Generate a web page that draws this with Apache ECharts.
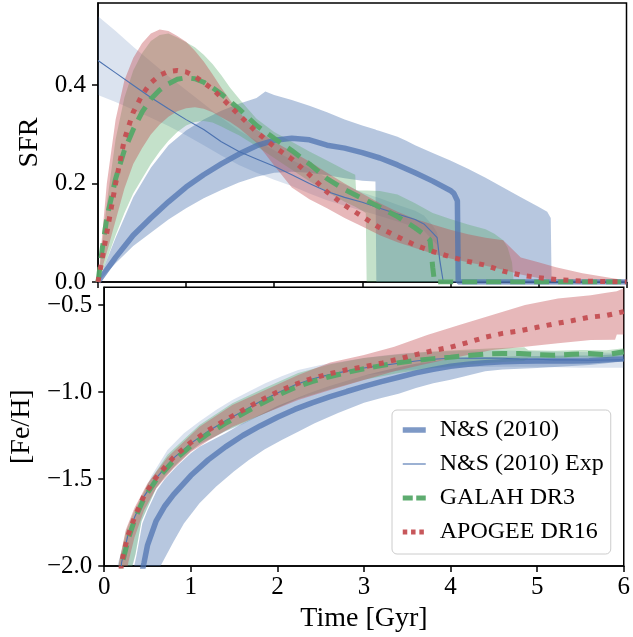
<!DOCTYPE html>
<html><head><meta charset="utf-8">
<script src="https://cdn.jsdelivr.net/npm/echarts@6/dist/echarts.min.js"></script>
<style>html,body{margin:0;padding:0;background:#fff}#c{width:633px;height:637px}</style>
</head><body><div id="c"></div>
<script>
// ---------- Tick labels ----------
const xTicks = [0, 1, 2, 3, 4, 5, 6];
const sfrTicks = [0, 0.2, 0.4];
const fehTicks = [-2.0, -1.5, -1.0, -0.5];
const seriesNames = ['N&S (2010)', 'N&S (2010) Exp', 'GALAH DR3', 'APOGEE DR16'];

// ---------- Top panel: SFR ----------
// N&S (2010) median
const nsT   = [0,0.2,0.4,0.6,0.8,1.0,1.2,1.4,1.6,1.8,2.0,2.2,2.4,2.6,2.8,3.0,3.2,3.4,3.6,3.8,4.0,4.04,4.08,4.09,6];
const nsSFR = [0,0.05,0.095,0.13,0.163,0.193,0.218,0.24,0.26,0.277,0.288,0.292,0.289,0.278,0.272,0.263,0.252,0.238,0.222,0.205,0.186,0.18,0.165,0,0];
// N&S (2010) band
const nsBandT = [0,0.2,0.4,0.6,0.8,1.0,1.2,1.4,1.6,1.8,1.9,2.0,2.2,2.4,2.6,2.8,3.0,3.15,3.16,3.2,3.4,3.5,3.6,3.8,4.0,4.2,4.4,4.6,4.8,5.0,5.1,5.14,5.15,6];
const nsSFRlo = [0,0.038,0.073,0.1,0.127,0.15,0.17,0.187,0.202,0.214,0.218,0.222,0.224,0.222,0.217,0.211,0.206,0.204,0,0,0,0,0,0,0,0,0,0,0,0,0,0,0,0];
const nsSFRhi = [0,0.09,0.172,0.232,0.278,0.308,0.33,0.348,0.362,0.374,0.387,0.38,0.37,0.358,0.345,0.33,0.318,0.31,0.309,0.307,0.295,0.287,0.278,0.262,0.247,0.23,0.212,0.192,0.172,0.153,0.143,0.13,0,0];
// N&S (2010) Exp
const expT   = [0,0.2,0.4,0.6,0.8,1.0,1.2,1.4,1.6,1.8,2.0,2.2,2.4,2.6,2.8,3.0,3.2,3.4,3.6,3.7,3.8,3.85,3.88,3.92,6];
const expSFR = [0.45,0.425,0.4,0.375,0.352,0.33,0.31,0.285,0.265,0.25,0.235,0.218,0.2,0.184,0.172,0.162,0.15,0.138,0.127,0.118,0.1,0.09,0.045,0,0];
const expSFRhi = [0.54,0.51,0.478,0.448,0.418,0.39,0.362,0.334,0.308,0.287,0.268,0.248,0.23,0.212,0.198,0.182,0.17,0.157,0.145,0.135,0.115,0.1,0.05,0,0];
const expSFRlo = [0.38,0.366,0.35,0.334,0.317,0.298,0.278,0.257,0.238,0.222,0.208,0.195,0.18,0.166,0.155,0.145,0.134,0.123,0.112,0.104,0.085,0.075,0.03,0,0];
// GALAH DR3
const gT   = [0,0.05,0.1,0.2,0.3,0.4,0.5,0.6,0.7,0.8,0.9,1.0,1.1,1.2,1.3,1.4,1.6,1.8,2.0,2.2,2.4,2.6,2.8,3.0,3.2,3.4,3.6,3.7,3.77,3.8,3.82,6];
const gSFR = [0,0.07,0.13,0.21,0.268,0.31,0.345,0.372,0.39,0.403,0.412,0.415,0.413,0.406,0.395,0.382,0.352,0.318,0.292,0.267,0.24,0.21,0.188,0.17,0.152,0.133,0.11,0.097,0.085,0.03,0,0];
const gBandT = [0,0.1,0.2,0.3,0.4,0.5,0.6,0.7,0.8,0.9,1.0,1.1,1.2,1.3,1.4,1.5,1.6,1.7,1.8,2.0,2.2,2.4,2.6,2.8,2.92,2.93,3.0,3.04,3.05,3.2,3.4,3.6,3.8,4.0,4.2,4.4,4.5,4.6,4.65,4.7,4.72,6];
const gSFRhi = [0,0.16,0.29,0.375,0.43,0.465,0.49,0.502,0.505,0.497,0.487,0.477,0.462,0.443,0.42,0.395,0.373,0.352,0.332,0.305,0.285,0.265,0.247,0.228,0.218,0.186,0.186,0.186,0.186,0.185,0.178,0.16,0.14,0.128,0.117,0.107,0.098,0.085,0.07,0.04,0,0];
const gSFRlo = [0,0.045,0.095,0.14,0.18,0.21,0.24,0.265,0.287,0.305,0.318,0.325,0.327,0.324,0.316,0.307,0.298,0.287,0.276,0.252,0.228,0.205,0.183,0.163,0.153,0.152,0.145,0.14,0,0,0,0,0,0,0,0,0,0,0,0,0,0];
// APOGEE DR16
const aT   = [0,0.1,0.2,0.3,0.4,0.5,0.6,0.7,0.8,0.9,1.0,1.1,1.2,1.3,1.4,1.5,1.6,1.8,2.0,2.2,2.4,2.6,2.8,3.0,3.2,3.4,3.6,3.8,4.0,4.2,4.4,4.6,4.8,5.0,5.2,5.5,6];
const aSFR = [0,0.1,0.2,0.29,0.345,0.38,0.405,0.42,0.428,0.43,0.427,0.418,0.405,0.392,0.375,0.357,0.34,0.305,0.275,0.25,0.218,0.183,0.156,0.133,0.11,0.092,0.075,0.062,0.051,0.042,0.034,0.022,0.014,0.009,0.005,0.002,0];
const aSFRhi = [0,0.2,0.33,0.41,0.455,0.485,0.505,0.513,0.51,0.5,0.488,0.47,0.448,0.422,0.395,0.37,0.345,0.31,0.285,0.265,0.245,0.222,0.2,0.18,0.16,0.143,0.128,0.117,0.106,0.097,0.09,0.085,0.05,0.04,0.03,0.018,0.003];
const aSFRlo = [0,0.06,0.125,0.19,0.24,0.272,0.3,0.32,0.336,0.347,0.353,0.355,0.352,0.345,0.335,0.325,0.313,0.283,0.237,0.192,0.168,0.15,0.13,0.113,0.095,0.081,0.069,0.058,0.048,0.04,0.033,0.025,0.015,0.008,0.004,0,0];

// ---------- Bottom panel: [Fe/H] ----------
const nsFeT = [0.4,0.46,0.5,0.6,0.7,0.8,0.9,1.0,1.2,1.4,1.6,1.8,2.0,2.2,2.4,2.6,2.8,3.0,3.2,3.4,3.6,3.8,4.0,4.2,4.4,4.6,4.8,5.0,5.2,5.4,5.6,5.8,6.0];
const nsFe  = [-2.12,-1.98,-1.88,-1.74,-1.655,-1.59,-1.535,-1.48,-1.39,-1.315,-1.25,-1.195,-1.145,-1.1,-1.062,-1.028,-0.997,-0.968,-0.94,-0.915,-0.89,-0.87,-0.852,-0.84,-0.832,-0.826,-0.823,-0.822,-0.822,-0.821,-0.82,-0.815,-0.81];
const nsFeHiT = [0.3,0.37,0.44,0.5,0.61,0.7,0.84,1.0,1.1,1.4,1.6,1.8,2.0,2.2,2.4,2.6,2.8,3.0,3.2,3.4,3.6,3.8,4.0,4.2,4.4,4.6,4.8,5.0,5.2,5.4,5.6,5.8,6.0];
const nsFeHi  = [-2.1,-1.946,-1.755,-1.68,-1.563,-1.5,-1.425,-1.352,-1.314,-1.237,-1.18,-1.13,-1.08,-1.04,-1.0,-0.965,-0.935,-0.905,-0.88,-0.857,-0.838,-0.823,-0.812,-0.805,-0.8,-0.797,-0.795,-0.793,-0.792,-0.79,-0.79,-0.785,-0.78];
const nsFeLoT = [0.6,0.65,0.8,0.92,1.1,1.29,1.5,1.67,1.85,2.05,2.25,2.43,2.7,3.0,3.2,3.4,3.6,3.8,4.0,4.2,4.4,4.6,4.8,5.0,5.2,5.4,5.6,5.8,6.0];
const nsFeLo  = [-2.1,-2.0,-1.86,-1.755,-1.64,-1.544,-1.455,-1.39,-1.33,-1.276,-1.225,-1.18,-1.12,-1.062,-1.035,-1.01,-0.977,-0.95,-0.93,-0.905,-0.88,-0.87,-0.866,-0.862,-0.856,-0.85,-0.845,-0.835,-0.82];

const expFeT = [0.18,0.2,0.27,0.35,0.46,0.6,0.8,1.0,1.2,1.4,1.6,1.8,2.0,2.2,2.4,2.6,2.8,3.0,3.2,3.4,3.6,3.8,4.0,4.2,4.4,4.6,4.8,5.0,5.2,5.4,5.6,5.8,6.0];
const expFe  = [-2.1,-1.98,-1.83,-1.72,-1.6,-1.495,-1.38,-1.295,-1.225,-1.165,-1.11,-1.055,-1.005,-0.96,-0.925,-0.9,-0.88,-0.862,-0.848,-0.835,-0.822,-0.812,-0.806,-0.805,-0.804,-0.806,-0.81,-0.812,-0.815,-0.815,-0.817,-0.816,-0.815];
const expFeHiT = [0.12,0.16,0.25,0.35,0.45,0.54,0.73,0.92,1.1,1.3,1.48,1.7,1.86,2.05,2.24,2.5,2.8,3.0,3.2,3.5,4.0,4.5,5.0,5.5,6.0];
const expFeHi  = [-2.1,-1.98,-1.83,-1.717,-1.59,-1.487,-1.333,-1.237,-1.17,-1.1,-1.046,-0.99,-0.95,-0.91,-0.874,-0.845,-0.82,-0.805,-0.792,-0.775,-0.765,-0.76,-0.765,-0.77,-0.775];
const expFeLoT = [0.28,0.36,0.43,0.5,0.6,0.7,0.84,1.0,1.1,1.4,1.6,1.8,2.0,2.2,2.4,2.6,2.8,3.0,3.4,3.8,4.2,4.6,5.0,5.5,6.0];
const expFeLo  = [-2.1,-1.935,-1.745,-1.665,-1.555,-1.488,-1.415,-1.34,-1.303,-1.227,-1.185,-1.135,-1.09,-1.045,-1.0,-0.965,-0.935,-0.905,-0.878,-0.862,-0.856,-0.855,-0.855,-0.86,-0.86];

const gFeT = [0.18,0.21,0.28,0.35,0.46,0.6,0.8,1.0,1.2,1.4,1.6,1.8,2.0,2.2,2.4,2.6,2.8,3.0,3.2,3.4,3.6,3.8,4.0,4.2,4.4,4.6,4.8,5.0,5.2,5.4,5.6,5.8,6.0];
const gFe  = [-2.1,-1.98,-1.84,-1.735,-1.61,-1.505,-1.395,-1.31,-1.24,-1.18,-1.125,-1.07,-1.02,-0.975,-0.94,-0.912,-0.888,-0.866,-0.848,-0.832,-0.818,-0.808,-0.8,-0.79,-0.782,-0.778,-0.778,-0.785,-0.788,-0.783,-0.778,-0.785,-0.768];
const gFeHiT = [0.14,0.17,0.25,0.35,0.5,0.73,1.1,1.48,1.86,2.24,2.61,3.0,3.35,3.7,4.1,4.5,4.85,4.9,5.2,5.5,5.8,6.0];
const gFeHi  = [-2.1,-1.98,-1.8,-1.68,-1.53,-1.36,-1.19,-1.065,-0.975,-0.89,-0.84,-0.805,-0.785,-0.77,-0.758,-0.748,-0.742,-0.76,-0.763,-0.758,-0.76,-0.748];
const gFeLoT = [0.27,0.36,0.43,0.5,0.6,0.7,0.84,1.0,1.1,1.4,1.6,1.8,2.0,2.24,2.6,3.0,3.4,3.8,4.2,4.6,4.85,4.9,5.2,5.5,5.8,6.0];
const gFeLo  = [-2.1,-1.932,-1.742,-1.662,-1.552,-1.485,-1.412,-1.337,-1.3,-1.224,-1.18,-1.135,-1.09,-1.04,-0.985,-0.93,-0.89,-0.862,-0.842,-0.828,-0.822,-0.805,-0.806,-0.8,-0.806,-0.79];

const aFeT = [0.18,0.2,0.27,0.35,0.46,0.6,0.8,1.0,1.2,1.4,1.6,1.8,2.0,2.2,2.4,2.6,2.8,3.0,3.2,3.4,3.6,3.8,4.0,4.2,4.4,4.6,4.8,5.0,5.2,5.4,5.6,5.8,6.0];
const aFe  = [-2.1,-1.98,-1.83,-1.72,-1.595,-1.49,-1.375,-1.29,-1.22,-1.16,-1.105,-1.05,-1.0,-0.957,-0.922,-0.895,-0.872,-0.855,-0.835,-0.81,-0.785,-0.762,-0.742,-0.715,-0.685,-0.663,-0.648,-0.628,-0.608,-0.59,-0.57,-0.56,-0.538];
const aFeHiT = [0.14,0.17,0.25,0.35,0.5,0.73,1.1,1.48,1.86,2.24,2.61,3.0,3.35,3.73,4.1,4.48,4.86,5.24,5.62,5.8,5.92,6.0];
const aFeHi  = [-2.1,-1.98,-1.79,-1.665,-1.525,-1.375,-1.2,-1.075,-0.989,-0.902,-0.83,-0.787,-0.74,-0.672,-0.615,-0.557,-0.5,-0.462,-0.443,-0.43,-0.42,-0.404];
const aFeLoT = [0.24,0.28,0.35,0.46,0.6,0.8,1.0,1.2,1.48,1.86,2.24,2.61,3.0,3.35,3.7,4.1,4.48,4.86,5.24,5.62,5.9,5.92,6.0];
const aFeLo  = [-2.1,-1.975,-1.835,-1.68,-1.553,-1.44,-1.345,-1.28,-1.2,-1.122,-1.046,-0.989,-0.931,-0.88,-0.84,-0.797,-0.759,-0.74,-0.72,-0.701,-0.7,-0.67,-0.67];

// ---------- Styles ----------
const FONT = "'Liberation Serif','Times New Roman',serif";
const BLUE = '#4C72B0', GREEN = '#55A868', RED = '#C44E52';

function pairs(ts, vs) { return ts.map((t, i) => [t, vs[i]]); }

function band(name, idx, hiT, hi, loT, lo, fill) {
  return {
    type: 'custom', name: name, xAxisIndex: idx, yAxisIndex: idx, silent: true,
    data: pairs(hiT, hi), encode: { x: 0, y: 1 },
    renderItem: function (params, api) {
      if (params.dataIndex !== 0) return null;
      const pts = [];
      for (let i = 0; i < hiT.length; i++) pts.push(api.coord([hiT[i], hi[i]]));
      for (let i = loT.length - 1; i >= 0; i--) pts.push(api.coord([loT[i], lo[i]]));
      const cs = params.coordSys;
      return {
        type: 'polygon', shape: { points: pts }, style: { fill: fill },
        clipPath: { type: 'rect', shape: { x: cs.x, y: cs.y, width: cs.width, height: cs.height } }
      };
    }
  };
}
function line(name, idx, ts, vs, ls) {
  return {
    type: 'line', name: name, xAxisIndex: idx, yAxisIndex: idx, data: pairs(ts, vs),
    showSymbol: false, symbol: 'none', clip: true, silent: true,
    itemStyle: { color: ls.color }, lineStyle: ls
  };
}
const thickBlue = { color: BLUE, width: 5.5, opacity: 0.72 };
const thinBlue = { color: BLUE, width: 1.1, opacity: 1 };
const greenDash = { color: GREEN, width: 5, type: [15, 9], opacity: 0.95 };
const redDot = { color: RED, width: 5, type: [5, 7.3], opacity: 0.95 };

const series = [
  band('b1', 0, nsBandT, nsSFRhi, nsBandT, nsSFRlo, 'rgba(76,114,176,0.4)'),
  line(seriesNames[0], 0, nsT, nsSFR, thickBlue),
  band('b2', 0, expT, expSFRhi, expT, expSFRlo, 'rgba(76,114,176,0.2)'),
  line(seriesNames[1], 0, expT, expSFR, thinBlue),
  band('b3', 0, gBandT, gSFRhi, gBandT, gSFRlo, 'rgba(85,168,104,0.35)'),
  line(seriesNames[2], 0, gT, gSFR, greenDash),
  band('b4', 0, aT, aSFRhi, aT, aSFRlo, 'rgba(196,78,82,0.4)'),
  line(seriesNames[3], 0, aT, aSFR, redDot),

  band('b5', 1, nsFeHiT, nsFeHi, nsFeLoT, nsFeLo, 'rgba(76,114,176,0.4)'),
  line(seriesNames[0], 1, nsFeT, nsFe, thickBlue),
  band('b6', 1, expFeHiT, expFeHi, expFeLoT, expFeLo, 'rgba(76,114,176,0.2)'),
  line(seriesNames[1], 1, expFeT, expFe, thinBlue),
  band('b7', 1, gFeHiT, gFeHi, gFeLoT, gFeLo, 'rgba(85,168,104,0.35)'),
  line(seriesNames[2], 1, gFeT, gFe, greenDash),
  band('b8', 1, aFeHiT, aFeHi, aFeLoT, aFeLo, 'rgba(196,78,82,0.4)'),
  line(seriesNames[3], 1, aFeT, aFe, redDot)
];

const axisLineStyle = { lineStyle: { color: '#000', width: 1.5 } };
const tickStyle = { length: 6, lineStyle: { color: '#000', width: 1.5 } };
const labelStyle = { color: '#000', fontFamily: FONT, fontSize: 25, margin: 12 };
const nameStyle = { color: '#000', fontFamily: FONT, fontSize: 28 };
const fmtMinus = v => (v < 0 ? '\u2212' : '') + Math.abs(v).toFixed(1);

const option = {
  animation: false,
  backgroundColor: '#fff',
  textStyle: { fontFamily: FONT },
  grid: [
    { left: 98, right: 6.5, top: 3, height: 279, show: true, borderColor: '#000', borderWidth: 1.5, containLabel: false },
    { left: 98, right: 6.5, top: 287.3, height: 278.7, show: true, borderColor: '#000', borderWidth: 1.5, containLabel: false }
  ],
  xAxis: [
    { type: 'value', gridIndex: 0, min: 0, max: 6, interval: 1, splitLine: { show: false },
      axisLine: axisLineStyle, axisTick: Object.assign({ customValues: xTicks }, tickStyle),
      axisLabel: { show: false } },
    { type: 'value', gridIndex: 1, min: 0, max: 6, interval: 1, splitLine: { show: false },
      axisLine: axisLineStyle, axisTick: Object.assign({ customValues: xTicks }, tickStyle),
      axisLabel: Object.assign({ customValues: xTicks, formatter: v => String(v) }, labelStyle, { margin: 9 }),
      name: 'Time [Gyr]', nameLocation: 'middle', nameGap: 39, nameTextStyle: nameStyle }
  ],
  yAxis: [
    { type: 'value', gridIndex: 0, min: 0, max: 0.567, interval: 0.2, splitLine: { show: false },
      axisLine: axisLineStyle, axisTick: Object.assign({ customValues: sfrTicks }, tickStyle),
      axisLabel: Object.assign({ customValues: sfrTicks, formatter: v => v.toFixed(1) }, labelStyle),
      name: 'SFR', nameLocation: 'middle', nameGap: 52, nameTextStyle: nameStyle },
    { type: 'value', gridIndex: 1, min: -2.0, max: -0.398, interval: 0.5, splitLine: { show: false },
      axisLine: axisLineStyle, axisTick: Object.assign({ customValues: fehTicks }, tickStyle),
      axisLabel: Object.assign({ customValues: fehTicks, formatter: fmtMinus }, labelStyle),
      name: '[Fe/H]', nameLocation: 'middle', nameGap: 64, nameTextStyle: nameStyle }
  ],
  legend: {
    data: [
      { name: seriesNames[0] },
      { name: seriesNames[1] },
      { name: seriesNames[2], lineStyle: { type: [10, 3.5] } },
      { name: seriesNames[3], lineStyle: { type: [4.5, 3.8] } }
    ],
    orient: 'vertical', left: 392, top: 410,
    itemWidth: 23, itemHeight: 14, itemGap: 6,
    padding: [6, 7, 8, 8],
    backgroundColor: 'rgba(255,255,255,0.8)', borderColor: '#cccccc', borderWidth: 1, borderRadius: 5,
    itemStyle: { opacity: 0 },
    lineStyle: { width: 'inherit' },
    textStyle: { fontFamily: FONT, fontSize: 24, color: '#000', lineHeight: 28, padding: [0, 0, 0, 9] },
    selectedMode: false
  },
  series: series
};
const chart = echarts.init(document.getElementById('c'), null, { renderer: 'canvas' });
chart.setOption(option);
</script></body></html>
